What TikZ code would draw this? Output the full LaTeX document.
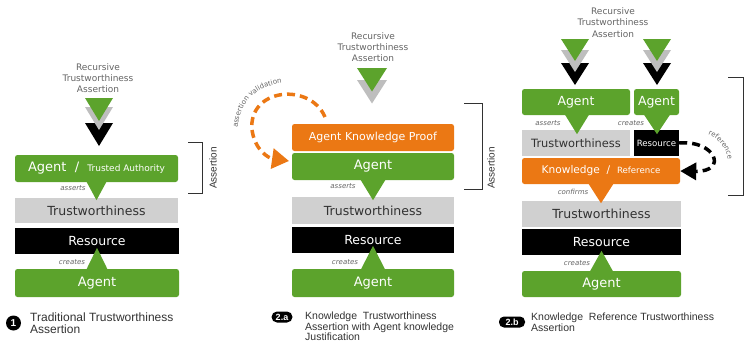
\documentclass[tikz,border=0pt]{standalone}
\usepackage{fontspec}
\setmainfont{DejaVu Sans}
\newfontfamily\capfont{Liberation Sans}
\usepackage{tikz}
\usetikzlibrary{arrows.meta,calc,decorations.text}

\definecolor{agreen}{RGB}{92,163,44}
\definecolor{korange}{RGB}{235,120,20}
\definecolor{tgray}{RGB}{208,208,208}
\definecolor{chevgray}{RGB}{190,190,190}
\definecolor{tdark}{RGB}{50,50,50}
\definecolor{lgray}{RGB}{100,100,100}

\newcommand\fsz[1]{\fontsize{#1}{#1}\selectfont}

\begin{document}
\begin{tikzpicture}[x=1pt,y=-1pt,
  box/.style={inner sep=0pt, text=white, font=\fsz{12.5}},
  greenbox/.style={box, fill=agreen, rounded corners=2.5pt},
  orangebox/.style={box, fill=korange, rounded corners=2.5pt},
  graybox/.style={box, fill=tgray, text=tdark},
  blackbox/.style={box, fill=black},
  verb/.style={inner sep=0pt, text=lgray, font=\fsz{7}\itshape},
  heading/.style={inner sep=0pt, text=lgray, align=center, font=\fontsize{9}{11.3}\selectfont},
  bracketlbl/.style={inner sep=0pt, rotate=90, text=tdark, font=\capfont\fsz{10}},
  capt/.style={inner sep=0pt, anchor=west, align=left, text=tdark},
  badge/.style={inner sep=0pt, fill=black, text=white, font=\capfont\bfseries\fsz{9}},
  dasharc/.style={line width=3.5pt, dash pattern=on 8pt off 5pt}]
\useasboundingbox (0,0) rectangle (752,346);

% ---------- 1: traditional assertion
\node[heading] (head1) at (98,78) {Recursive\\Trustworthiness\\Assertion};
\foreach \c/\t in {black/123, chevgray/107, agreen/98}
  \fill[\c] (85,\t) -- (113,\t) -- (99,\t+23) -- cycle;
\node[greenbox, minimum width=163, minimum height=27] (ag1) at (96.5,168.5)
  {\fsz{13}Agent\ \ /\ \ {\fsz{9}Trusted Authority}};
\node[graybox, minimum width=163, minimum height=25] (tw1) at (96.5,210.5) {Trustworthiness};
\node[blackbox, minimum width=164, minimum height=26] (rs1) at (97,241) {Resource};
\node[greenbox, minimum width=164, minimum height=28] (ag1b) at (97,283) {\fsz{13}Agent};
\fill[agreen] ($(ag1.south)+(-10,-0.5)$) -- ++(20,0) -- ($(ag1.south)+(0,18)$) -- cycle;
\fill[agreen] ($(ag1b.north)+(-10.5,0.5)$) -- ++(21,0) -- ($(ag1b.north)+(0,-21)$) -- cycle;
\node[verb] (as1) at (73,188) {asserts};
\node[verb] (cr1) at (72,262) {creates};
% bracket
\coordinate (br1a) at (188,142);
\coordinate (br1b) at (188,193);
\draw[tdark, thick] (br1a) -- ++(14,0) |- (br1b);
\node[bracketlbl] (asr1) at (213,168) {Assertion};
% caption
\node[badge, circle, minimum size=15] (bd1) at (13.5,323) {\fsz{10}1};
\node[capt, font=\capfont\fontsize{12}{12.5}\selectfont] (cap1) at (30,323)
  {Traditional Trustworthiness\\Assertion};

% ---------- 2.a: knowledge proof
\node[heading] (head2) at (373,47) {Recursive\\Trustworthiness\\Assertion};
\foreach \c/\t in {chevgray/80, agreen/68}
  \fill[\c] (357,\t) -- (387,\t) -- (372,\t+23.5) -- cycle;
\node[orangebox, minimum width=162, minimum height=27] (akp) at (373,137.5)
  {\fsz{11}Agent Knowledge Proof};
\node[greenbox, minimum width=162, minimum height=27] (ag2) at (373,166.5) {\fsz{13}Agent};
\node[graybox, minimum width=162, minimum height=27] (tw2) at (373,210.5) {Trustworthiness};
\node[blackbox, minimum width=162, minimum height=26] (rs2) at (373,240) {Resource};
\node[greenbox, minimum width=162, minimum height=28] (ag2b) at (373,283) {\fsz{13}Agent};
\fill[agreen] ($(ag2.south)+(-12.5,-0.5)$) -- ++(25,0) -- ($(ag2.south)+(0,20)$) -- cycle;
\fill[agreen] ($(ag2b.north)+(-12,0.5)$) -- ++(24,0) -- ($(ag2b.north)+(0,-23)$) -- cycle;
\node[verb] (as2) at (343,186) {asserts};
\node[verb] (cr2) at (345,262) {creates};
% validation loop
\coordinate (val1) at (325,117);
\coordinate (val2) at (289,161);
\draw[korange, dasharc, -{Triangle[length=17pt,width=20pt]}]
  (val1) .. controls (310,82) and (248,88) .. (252,130)
  .. controls (255,150) and (268,158) .. (val2);
\path[decorate, decoration={text along path, text align=center, text color=lgray,
  text={|\fsz{7}|assertion validation}}]
  (238,146) .. controls (232,100) and (262,78) .. (300,84);
% bracket
\coordinate (br2a) at (464,103);
\coordinate (br2b) at (464,189);
\draw[tdark, thick] (br2a) -- ++(18,0) |- (br2b);
\node[bracketlbl] (asr2) at (491,168) {Assertion};
% caption
\node[badge, rounded corners=5.5pt, minimum width=21, minimum height=11] (bd2) at (282,317) {2.a};
\node[capt, font=\capfont\fontsize{10.5}{10.5}\selectfont] (cap2) at (305,326.5)
  {Knowledge\ \ Trustworthiness\\Assertion with Agent knowledge\\Justification};

% ---------- 2.b: knowledge reference
\node[heading] (head3) at (613,22.5) {Recursive\\Trustworthiness\\Assertion};
\foreach \x in {575,657}
  \foreach \c/\t in {black/63, chevgray/50, agreen/39}
    \fill[\c] (\x-14,\t) -- (\x+14,\t) -- (\x,\t+22) -- cycle;
\node[greenbox, minimum width=108, minimum height=26] (ag3l) at (576,102) {\fsz{12.5}Agent};
\node[greenbox, minimum width=45, minimum height=26] (ag3r) at (656.5,102) {\fsz{12.5}Agent};
\node[graybox, minimum width=108, minimum height=26, font=\fsz{11.4}] (tw3a) at (576,143) {Trustworthiness};
\node[blackbox, minimum width=45, minimum height=26, font=\fsz{8.6}] (rs3a) at (656.5,143) {Resource};
\node[orangebox, minimum width=158, minimum height=26] (kr3) at (601,171)
  {\fsz{10.6}Knowledge\ \ /\ \ {\fsz{8.6}Reference}};
\node[graybox, minimum width=159, minimum height=26] (tw3) at (601.5,214) {Trustworthiness};
\node[blackbox, minimum width=159, minimum height=26] (rs3) at (601.5,242) {Resource};
\node[greenbox, minimum width=159, minimum height=26] (ag3b) at (601.5,284) {\fsz{13}Agent};
\fill[agreen] ($(ag3l.south)+(-11,-0.5)$) -- ++(24,0) -- ($(ag3l.south)+(1,19)$) -- cycle;
\fill[agreen] ($(ag3r.south)+(-12.5,-0.5)$) -- ++(26,0) -- ($(ag3r.south)+(0.5,19)$) -- cycle;
\fill[korange] ($(kr3.south)+(-12.5,-0.5)$) -- ++(25,0) -- ($(kr3.south)+(0,19)$) -- cycle;
\fill[agreen] ($(ag3b.north)+(-11.5,0.5)$) -- ++(23,0) -- ($(ag3b.north)+(0,-20)$) -- cycle;
\node[verb] (as3) at (548,123) {asserts};
\node[verb] (cr3a) at (631,123) {creates};
\node[verb] (cf3) at (573,192) {confirms};
\node[verb] (cr3) at (577,263) {creates};
% reference loop
\draw[black, dasharc, -{Triangle[length=16pt,width=17pt]}]
  (rs3a.east) .. controls (716,140) and (728,172) .. (kr3.east);
\path[decorate, decoration={text along path, text align=center, text color=lgray,
  text={|\fsz{7}|reference}}]
  (700,133) .. controls (717,134) and (730,150) .. (728,168);
% bracket
\coordinate (br3a) at (728,77);
\coordinate (br3b) at (728,195);
\draw[tdark, thick] (br3a) -- ++(15,0) |- (br3b);
% caption
\node[badge, rounded corners=5pt, minimum width=26, minimum height=11] (bd3) at (512,322) {2.b};
\node[capt, font=\capfont\fontsize{10.5}{11}\selectfont] (cap3) at (531,322.5)
  {Knowledge\ \ Reference Trustworthiness\\Assertion};
\end{tikzpicture}
\end{document}
